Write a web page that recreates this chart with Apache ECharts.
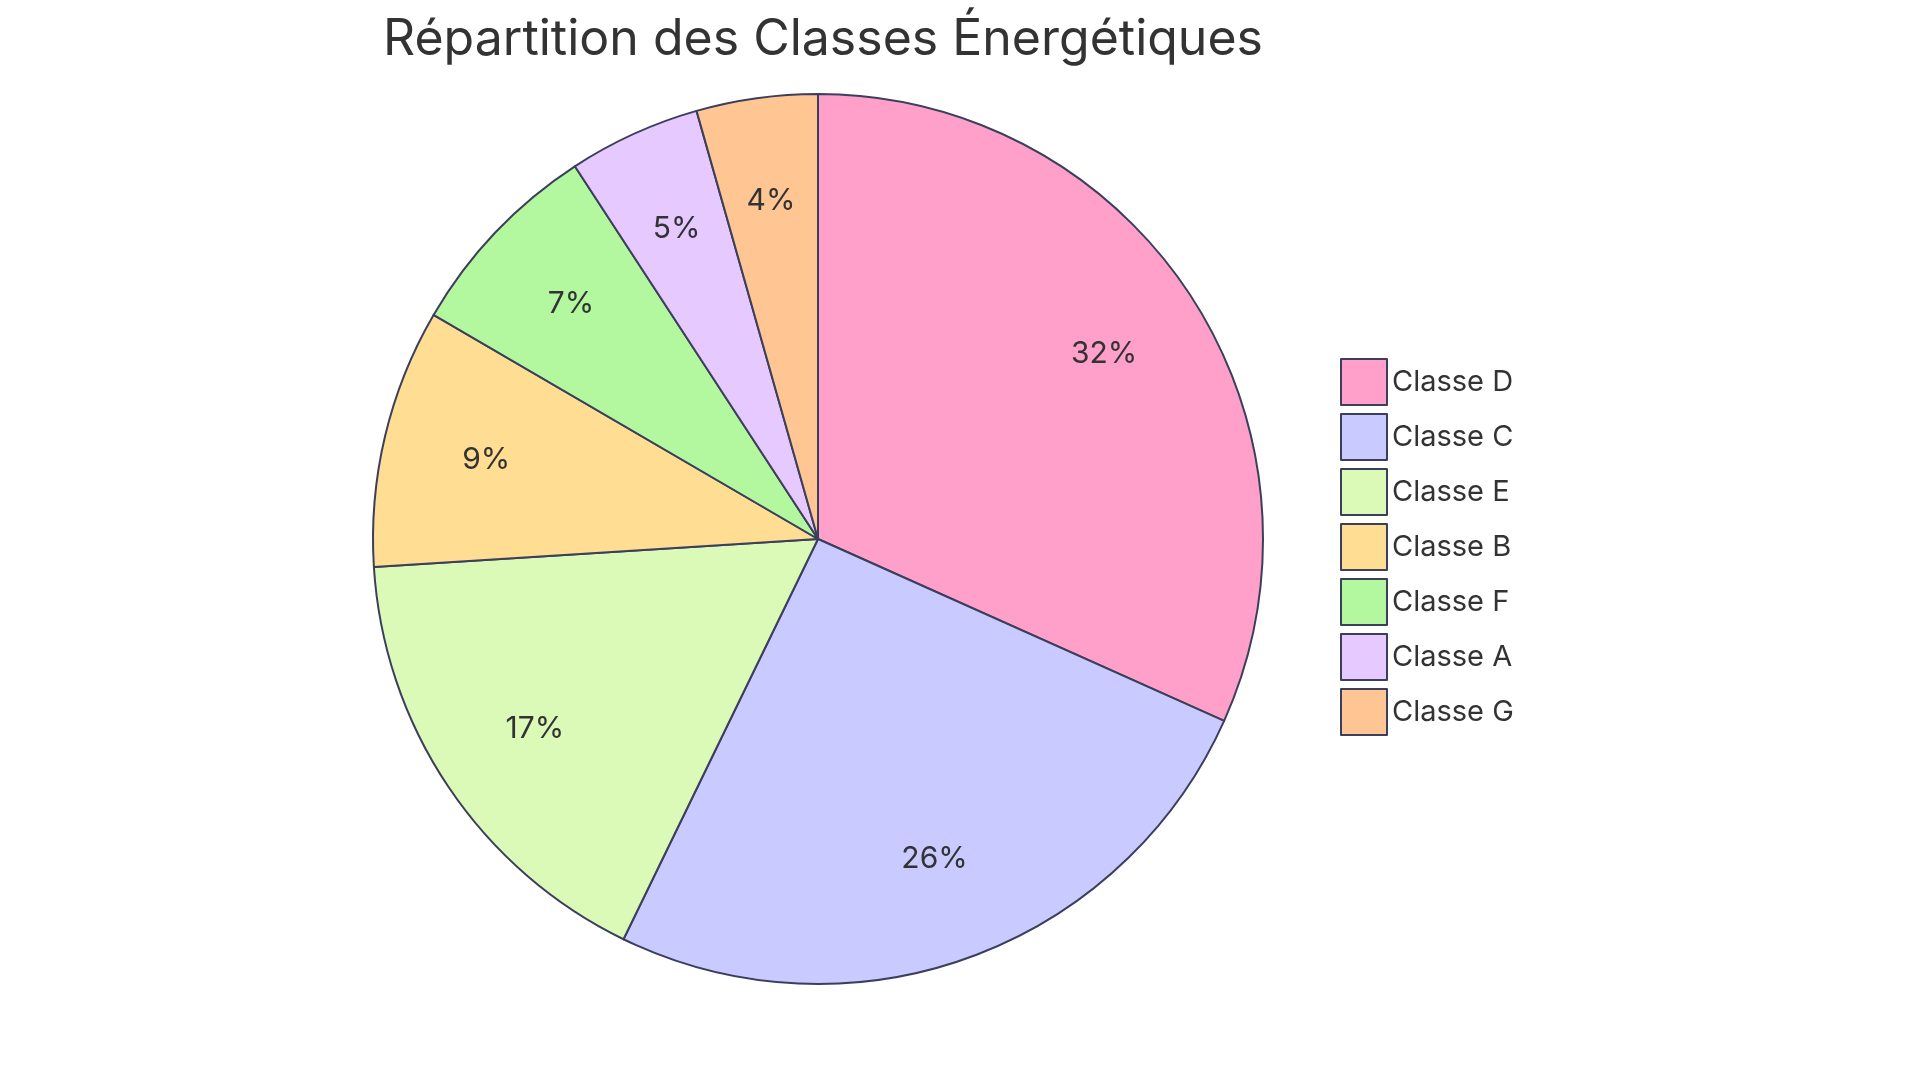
<!DOCTYPE html><html><head><meta charset="utf-8">
<script src="https://cdn.jsdelivr.net/npm/echarts@6/dist/echarts.min.js"></script>
<style>html,body{margin:0;background:#fff}#c{width:1920px;height:1083px}</style></head><body><div id="c"></div>
<script>
const categories=["Classe D","Classe C","Classe E","Classe B","Classe F","Classe A","Classe G"];
const values=[31.7,25.5,16.8,9.4,7.4,4.8,4.4];
const colors=["#ffa0cb","#c9caff","#dbfab8","#ffdd93","#b3f89f","#e6c9fe","#ffc694"];
const data=categories.map((n,i)=>({name:n,value:values[i],itemStyle:{color:colors[i]}}));
const ch=echarts.init(document.getElementById('c'));
ch.setOption({
 title:{text:"Répartition des Classes Énergétiques",left:818,top:10,textAlign:'center',textStyle:{fontFamily:'Inter',fontSize:50,fontWeight:'normal',color:'#333'}},
 legend:{orient:'vertical',left:1335,top:353,itemWidth:46,itemHeight:46,itemGap:7,icon:'rect',
   textStyle:{fontFamily:'Inter',fontSize:29,color:'#333'},data:categories},
 series:[
  {type:'pie',center:[818,539],radius:[0,445],startAngle:90,clockwise:true,label:{show:false},labelLine:{show:false},
   itemStyle:{borderColor:'#3b3f5c',borderWidth:2},emphasis:{disabled:true},data:data},
  {type:'pie',center:[818,539],radius:[0,676],startAngle:90,clockwise:true,silent:true,legendHoverLink:false,
   itemStyle:{color:'transparent',borderWidth:0},emphasis:{disabled:true},
   label:{show:true,position:'inside',fontFamily:'Inter',fontSize:30,color:'#333',formatter:p=>Math.round(p.value)+'%'},
   data:categories.map((n,i)=>({name:n+' ',value:values[i]}))}
 ]
});
</script></body></html>
